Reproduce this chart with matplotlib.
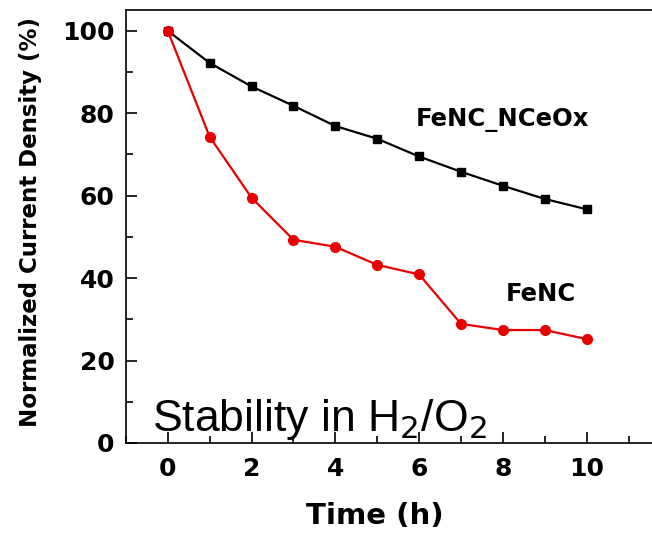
import matplotlib
matplotlib.use('Agg')
import matplotlib.pyplot as plt
from matplotlib.ticker import MultipleLocator

plt.rcParams['font.family'] = ['DejaVu Sans']

time_h = [0, 1, 2, 3, 4, 5, 6, 7, 8, 9, 10]
fenc_nceox = [100, 92.2, 86.5, 81.8, 76.9, 73.8, 69.5, 65.8, 62.4, 59.2, 56.7]
fenc = [100, 74.3, 59.5, 49.3, 47.6, 43.2, 40.9, 28.9, 27.4, 27.4, 25.2]

fig = plt.figure(figsize=(6.52, 5.35), dpi=100)
ax = fig.add_axes([0.193, 0.172, 0.807, 0.809])

ax.plot(time_h, fenc_nceox, '-s', color='black', lw=1.6, ms=6)
ax.plot(time_h, fenc, '-o', color='#e80000', lw=1.6, ms=7)

ax.set_xlim(-1.0, 11.56)
ax.set_ylim(0, 105)
ax.xaxis.set_major_locator(MultipleLocator(2))
ax.xaxis.set_minor_locator(MultipleLocator(1))
ax.yaxis.set_major_locator(MultipleLocator(20))
ax.yaxis.set_minor_locator(MultipleLocator(10))
ax.tick_params(which='major', direction='in', length=8, width=1.2,
               labelsize=18, top=False, right=False)
ax.tick_params(axis='x', which='major', pad=10)
ax.tick_params(axis='y', which='major', pad=8)
ax.tick_params(which='minor', direction='in', length=5, width=1.2,
               top=False, right=False)
for lab in ax.get_xticklabels() + ax.get_yticklabels():
    lab.set_fontweight('bold')
ax.spines['right'].set_visible(False)
for s in ['left', 'bottom', 'top']:
    ax.spines[s].set_linewidth(1.2)

ax.set_xlabel('Time (h)', fontsize=21, fontweight='bold')
ax.xaxis.set_label_coords(0.473, -0.137)
ax.set_ylabel('Normalized Current Density (%)', fontsize=16.5, fontweight='bold')
ax.yaxis.set_label_coords(-0.16, 0.51)

ax.text(8.0, 78.4, 'FeNC_NCeOx', fontsize=17.5, fontweight='bold', ha='center', va='center')
ax.text(8.9, 36.2, 'FeNC', fontsize=17.5, fontweight='bold', ha='center', va='center')
ax.text(-0.38, 3.0, r'Stability in H$_2$/O$_2$', fontsize=32, ha='left', va='baseline',
        family='Liberation Sans')

fig.savefig('out.png', dpi=100)
